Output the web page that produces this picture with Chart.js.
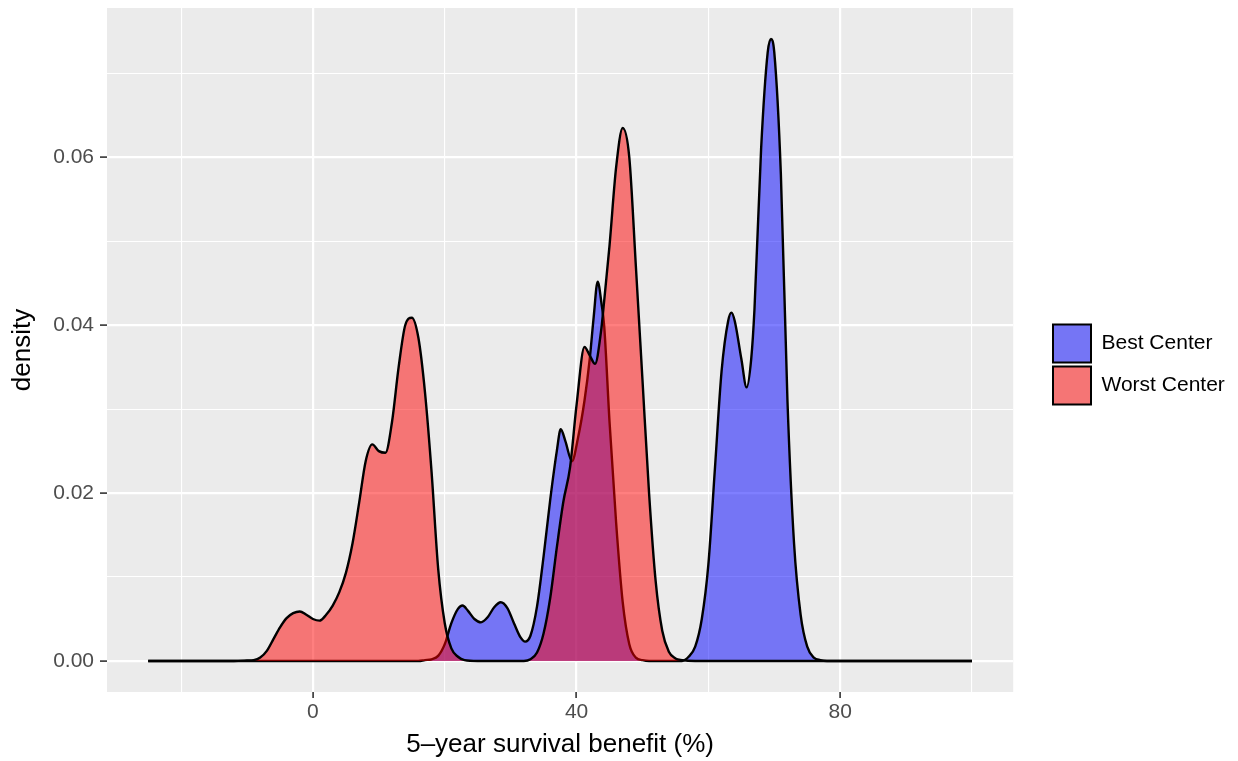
<!DOCTYPE html>
<html>
<head>
<meta charset="utf-8">
<script src="https://cdn.jsdelivr.net/npm/chart.js@4.4.1/dist/chart.umd.min.js"></script>
<style>
html,body{margin:0;padding:0;background:#fff;}
#wrap{width:1238px;height:761px;}
</style>
</head>
<body>
<div id="wrap"><canvas id="c" width="1238" height="761"></canvas></div>
<script>
// ---- data ----
const seriesNames = ['Best Center', 'Worst Center'];

const bestX = [-25, 16, 17, 18, 19, 20, 21, 22, 22.7, 23.5, 24.5, 25.5, 26.5, 27.5, 28.5, 29.5, 30.5, 31.5, 32.2, 33, 34, 35, 36, 37, 37.6, 38.3, 39.3, 40.2, 41.2, 42, 42.6, 43.2, 43.8, 44.2, 45, 46, 47, 48, 49, 50, 51, 56, 57, 58, 59, 60, 61, 62, 63, 63.5, 64, 65, 65.8, 66.5, 67, 68, 69, 69.5, 70, 71, 72, 73, 74, 75, 76, 77, 78, 100];
const bestY = [0, 0, 0.0001, 0.0002, 0.0006, 0.0020, 0.0045, 0.0062, 0.0066, 0.0060, 0.0050, 0.0046, 0.0052, 0.0064, 0.0070, 0.0063, 0.0045, 0.0028, 0.0023, 0.0030, 0.0065, 0.0125, 0.0192, 0.0250, 0.0276, 0.0262, 0.0238, 0.0265, 0.0310, 0.0360, 0.0410, 0.0452, 0.0425, 0.0398, 0.0285, 0.0165, 0.0070, 0.0020, 0.0004, 0.0001, 0, 0, 0.0005, 0.0017, 0.0050, 0.0115, 0.0230, 0.0345, 0.0405, 0.0415, 0.0405, 0.0360, 0.0326, 0.0360, 0.0420, 0.0610, 0.0725, 0.0741, 0.0725, 0.0580, 0.0310, 0.0140, 0.0055, 0.0017, 0.0004, 0.0001, 0, 0];

const worstX = [-25, -12, -10, -9, -8, -7, -6, -5, -4, -3, -2, -1, 0, 1, 2, 3, 4, 5, 6, 7, 8, 9, 10, 11, 12, 13, 14, 15, 16, 17, 18, 19, 20, 21, 22, 23, 25, 32, 33, 34, 35, 36, 37, 38, 39, 40, 41.2, 42, 42.8, 43.7, 44.2, 45, 46, 47, 48, 49, 50, 51, 52, 53, 54, 55, 56, 58, 100];
const worstY = [0, 0, 0.00005, 0.0001, 0.0004, 0.0012, 0.0026, 0.0040, 0.0051, 0.0057, 0.0059, 0.0055, 0.0050, 0.0048, 0.0055, 0.0066, 0.0082, 0.0105, 0.0140, 0.0188, 0.0238, 0.0258, 0.0250, 0.0248, 0.0285, 0.0350, 0.0400, 0.0409, 0.0385, 0.0320, 0.0225, 0.0110, 0.0045, 0.0015, 0.0005, 0.0001, 0, 0, 0.0002, 0.0010, 0.0033, 0.0075, 0.0135, 0.0190, 0.0230, 0.0305, 0.0374, 0.0364, 0.0354, 0.0392, 0.0430, 0.0495, 0.0588, 0.0635, 0.0600, 0.0470, 0.0335, 0.0200, 0.0095, 0.0036, 0.0011, 0.0003, 0.0001, 0, 0];

const xTickValues = [-20, 0, 20, 40, 60, 80, 100];
const xTickLabels = ['', '0', '', '40', '', '80', ''];
const yTickValues = [0, 0.01, 0.02, 0.03, 0.04, 0.05, 0.06, 0.07];
const yTickLabels = ['0.00', '', '0.02', '', '0.04', '', '0.06', ''];

const fillColors = ['rgba(0,0,255,0.5)', 'rgba(255,0,0,0.5)'];
const legendFills = ['#7575F5', '#F57575'];

// ---- chart ----
const FONT = '"Liberation Sans", Arial, Helvetica, sans-serif';
Chart.defaults.font.family = FONT;

function labelFor(values, labels, v) {
  for (let i = 0; i < values.length; i++) if (Math.abs(values[i] - v) < 1e-9) return labels[i];
  return '';
}
function isMajor(values, labels, v) { return labelFor(values, labels, v) !== ''; }

const toPts = (xs, ys) => xs.map((x, i) => ({x: x, y: ys[i]}));

const panelBg = {
  id: 'panelBg',
  beforeDraw(chart) {
    const {ctx, chartArea: a} = chart;
    ctx.save();
    ctx.fillStyle = '#EBEBEB';
    ctx.fillRect(a.left, a.top, a.right - a.left, a.bottom - a.top);
    ctx.restore();
  }
};
const legendPlace = {
  id: 'legendPlace',
  afterLayout(chart) {
    const L = chart.legend;
    const w = L.width;
    L.left = 1049; L.right = 1049 + w;
    L.top = 319; L.bottom = 410;
  }
};
const zeroPad = (s) => { s.paddingTop = 0; s.paddingBottom = 0; s.paddingLeft = 0; s.paddingRight = 0; };

new Chart(document.getElementById('c'), {
  type: 'line',
  data: {
    datasets: [
      {
        label: seriesNames[0],
        data: toPts(bestX, bestY),
        backgroundColor: fillColors[0],
        borderColor: '#000',
        borderWidth: 2.4,
        fill: 'origin',
        pointRadius: 0,
        pointHoverRadius: 0,
        cubicInterpolationMode: 'monotone',
        order: 1
      },
      {
        label: seriesNames[1],
        data: toPts(worstX, worstY),
        backgroundColor: fillColors[1],
        borderColor: '#000',
        borderWidth: 2.4,
        fill: 'origin',
        pointRadius: 0,
        pointHoverRadius: 0,
        cubicInterpolationMode: 'monotone',
        order: 0
      }
    ]
  },
  options: {
    responsive: false,
    animation: false,
    devicePixelRatio: 1,
    layout: {padding: {left: 0, right: 39, top: 8, bottom: 0}},
    plugins: {
      tooltip: {enabled: false},
      legend: {
        position: 'right',
        align: 'center',
        labels: {
          boxWidth: 38,
          boxHeight: 38,
          padding: 4,
          color: '#000',
          font: {size: 21, family: FONT},
          generateLabels: () => seriesNames.map((name, i) => ({
            text: name,
            fillStyle: legendFills[i],
            strokeStyle: '#000',
            lineWidth: 2,
            hidden: false,
            datasetIndex: i,
            fontColor: '#000'
          }))
        }
      }
    },
    scales: {
      x: {
        type: 'linear',
        min: -31.25,
        max: 106.25,
        afterBuildTicks: (a) => { a.ticks = xTickValues.map(v => ({value: v})); },
        afterFit: (s) => { s.height = 69; zeroPad(s); },
        border: {display: false},
        grid: {
          color: '#FFFFFF',
          lineWidth: (c) => (c.tick && isMajor(xTickValues, xTickLabels, c.tick.value)) ? 2.2 : 1.1,
          drawTicks: true,
          tickLength: 6,
          tickWidth: 1.6,
          tickColor: (c) => (c.tick && isMajor(xTickValues, xTickLabels, c.tick.value)) ? '#333333' : 'rgba(0,0,0,0)'
        },
        ticks: {
          autoSkip: false,
          maxRotation: 0,
          padding: 2,
          color: '#4D4D4D',
          font: {size: 21, family: FONT},
          callback: (v) => labelFor(xTickValues, xTickLabels, v)
        },
        title: {
          display: true,
          text: '5–year survival benefit (%)',
          color: '#000',
          font: {size: 26, family: FONT},
          padding: {top: 0, bottom: 1}
        }
      },
      y: {
        type: 'linear',
        min: -0.0037,
        max: 0.0778,
        afterBuildTicks: (a) => { a.ticks = yTickValues.map(v => ({value: v})); },
        afterFit: (s) => { s.width = 107; zeroPad(s); },
        border: {display: false},
        grid: {
          color: '#FFFFFF',
          lineWidth: (c) => (c.tick && isMajor(yTickValues, yTickLabels, c.tick.value)) ? 2.2 : 1.1,
          drawTicks: true,
          tickLength: 7,
          tickWidth: 1.6,
          tickColor: (c) => (c.tick && isMajor(yTickValues, yTickLabels, c.tick.value)) ? '#333333' : 'rgba(0,0,0,0)'
        },
        ticks: {
          autoSkip: false,
          padding: 6,
          color: '#4D4D4D',
          font: {size: 21, family: FONT},
          callback: (v) => labelFor(yTickValues, yTickLabels, v)
        },
        title: {
          display: true,
          text: 'density',
          color: '#000',
          font: {size: 26, family: FONT},
          padding: {top: 7, bottom: 0}
        }
      }
    }
  },
  plugins: [panelBg, legendPlace]
});
</script>
</body>
</html>
